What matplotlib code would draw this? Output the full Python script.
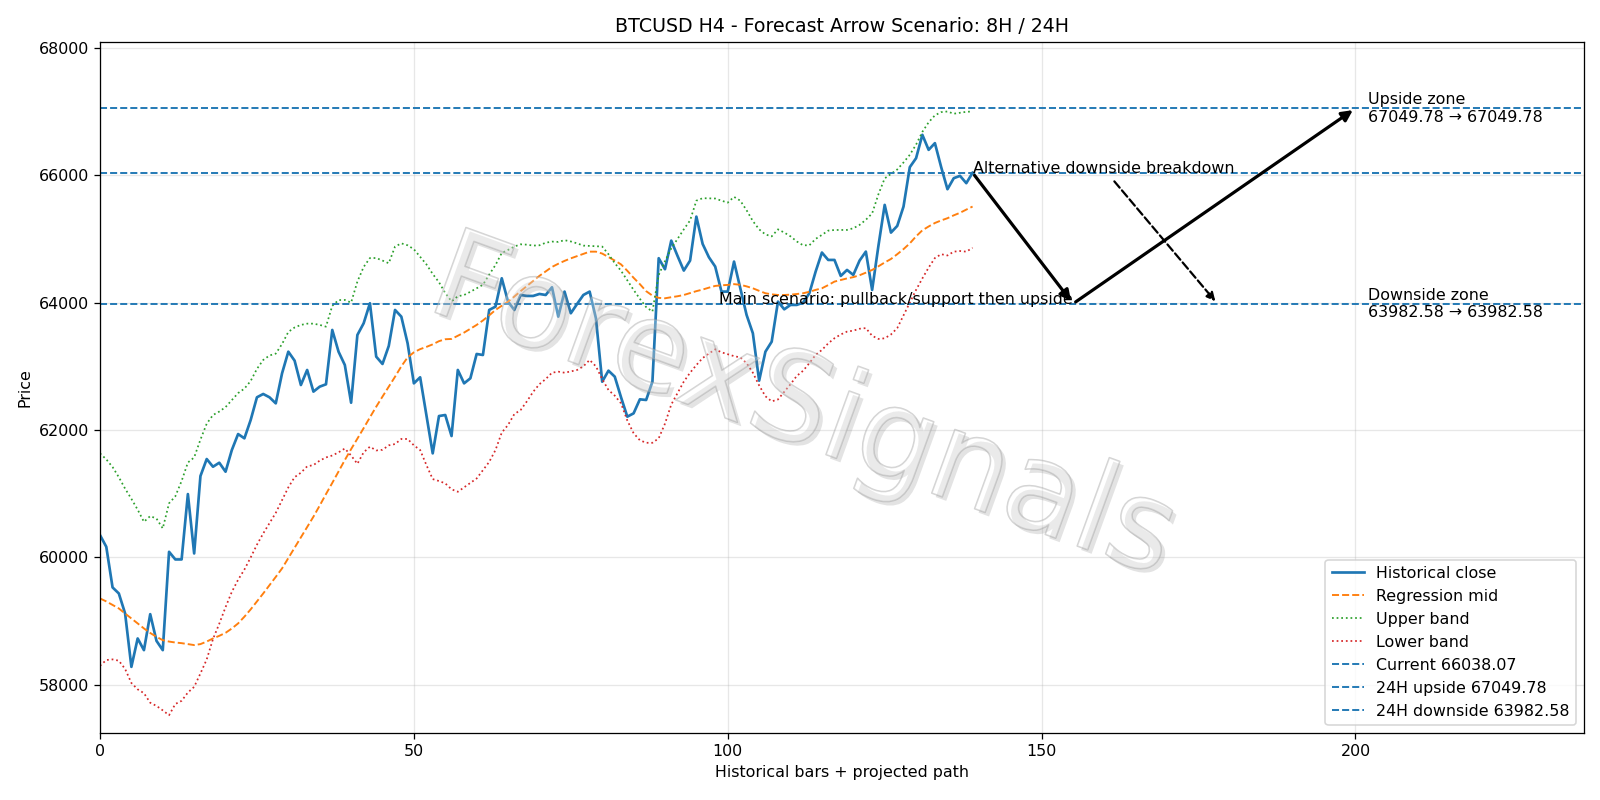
import matplotlib
matplotlib.use("Agg")
import matplotlib.pyplot as plt
import matplotlib.patheffects as pe

close = [60351, 60168, 59530, 59435, 59121, 58283, 58729, 58545, 59110, 58691,
         58545, 60089, 59969, 59969, 60995, 60063, 61278, 61545, 61424, 61487,
         61346, 61686, 61937, 61870, 62157, 62514, 62566, 62514, 62419, 62890,
         63230, 63089, 62707, 62943, 62603, 62681, 62718, 63571, 63230, 63021,
         62429, 63492, 63676, 63990, 63152, 63037, 63320, 63885, 63780, 63362,
         62733, 62828, 62236, 61634, 62220, 62236, 61906, 62943, 62733, 62812,
         63194, 63178, 63885, 63937, 64382, 64016, 63885, 64120, 64105, 64105,
         64136, 64120, 64241, 63780, 64173, 63833, 63979, 64120, 64173, 63754,
         62759, 62932, 62838, 62514, 62210, 62262, 62482, 62472, 62759, 64697,
         64524, 64973, 64733, 64503, 64660, 65350, 64921, 64712, 64566, 64173,
         64173, 64644, 64225, 63807, 63519, 62775, 63230, 63387, 64016, 63895,
         63964, 63964, 64000, 64147, 64487, 64786, 64670, 64670, 64419, 64513,
         64435, 64660, 64801, 64199, 64890, 65534, 65099, 65204, 65508, 66126,
         66267, 66634, 66398, 66503, 66126, 65780, 65953, 65990, 65875, 66038.07]

reg_mid = [59357, 59310, 59255, 59200, 59120, 59043, 58965, 58886, 58815, 58754,
           58702, 58680, 58665, 58655, 58640, 58625, 58640, 58680, 58729, 58770,
           58817, 58885, 58965, 59070, 59185, 59310, 59435, 59565, 59695, 59828,
           59990, 60150, 60315, 60478, 60640, 60815, 60995, 61170, 61350, 61529,
           61700, 61865, 62030, 62200, 62366, 62525, 62680, 62837, 63000, 63140,
           63220, 63270, 63305, 63345, 63395, 63425, 63430, 63480, 63530, 63590,
           63650, 63720, 63800, 63885, 63950, 64016, 64095, 64180, 64260, 64340,
           64420, 64490, 64560, 64610, 64655, 64695, 64730, 64765, 64800, 64800,
           64770, 64715, 64660, 64600, 64500, 64390, 64290, 64180, 64110, 64075,
           64068, 64085, 64100, 64120, 64150, 64180, 64205, 64235, 64262, 64272,
           64278, 64290, 64280, 64255, 64225, 64185, 64147, 64130, 64120, 64120,
           64125, 64135, 64147, 64170, 64200, 64225, 64275, 64330, 64355, 64380,
           64400, 64430, 64470, 64513, 64570, 64630, 64685, 64760, 64840, 64930,
           65040, 65135, 65195, 65250, 65290, 65325, 65370, 65410, 65460, 65508]

upper_band = [61634, 61540, 61420, 61260, 61080, 60920, 60750, 60560, 60650, 60610,
              60456, 60850, 60960, 61200, 61490, 61570, 61850, 62100, 62236, 62290,
              62360, 62470, 62580, 62650, 62770, 62960, 63100, 63170, 63200, 63350,
              63540, 63610, 63650, 63670, 63670, 63650, 63623, 63950, 64040, 64042,
              64000, 64330, 64560, 64700, 64700, 64660, 64618, 64880, 64930, 64900,
              64838, 64720, 64600, 64450, 64320, 64150, 64020, 64100, 64120, 64170,
              64225, 64280, 64440, 64590, 64780, 64827, 64880, 64915, 64910, 64895,
              64900, 64940, 64958, 64953, 64980, 64960, 64930, 64895, 64890, 64885,
              64880, 64760, 64620, 64500, 64350, 64200, 64060, 63930, 63860, 64435,
              64650, 64850, 65000, 65150, 65290, 65600, 65639, 65636, 65634, 65600,
              65570, 65660, 65600, 65450, 65280, 65150, 65070, 65040, 65150, 65100,
              65040, 64960, 64900, 64900, 65000, 65063, 65130, 65140, 65141, 65141,
              65167, 65220, 65300, 65400, 65700, 65950, 66020, 66090, 66200, 66320,
              66480, 66680, 66830, 66940, 66990, 67000, 66965, 66980, 66995, 67000]

lower_band = [58300, 58390, 58400, 58380, 58250, 58030, 57930, 57870, 57720, 57670,
              57600, 57524, 57700, 57750, 57880, 57969, 58180, 58400, 58720, 58960,
              59220, 59460, 59650, 59810, 60000, 60200, 60377, 60540, 60700, 60900,
              61100, 61260, 61330, 61430, 61450, 61520, 61570, 61600, 61650, 61710,
              61600, 61470, 61650, 61739, 61680, 61690, 61760, 61780, 61860, 61860,
              61760, 61686, 61450, 61230, 61200, 61163, 61070, 61031, 61100, 61170,
              61240, 61370, 61500, 61686, 61960, 62080, 62250, 62314, 62450, 62600,
              62720, 62800, 62900, 62916, 62900, 62920, 62943, 63000, 63100, 63000,
              62800, 62628, 62540, 62419, 62150, 61950, 61840, 61800, 61800, 61870,
              62100, 62400, 62580, 62760, 62900, 63020, 63130, 63200, 63267, 63220,
              63190, 63160, 63140, 63050, 62900, 62700, 62530, 62450, 62480, 62600,
              62720, 62850, 62930, 63050, 63180, 63257, 63360, 63441, 63500, 63545,
              63560, 63590, 63600, 63480, 63430, 63440, 63500, 63600, 63800, 64000,
              64200, 64380, 64550, 64700, 64760, 64740, 64800, 64810, 64800, 64860]

current = 66038.07
upside = 67049.78
downside = 63982.58

last_x = 139
pullback_x = 155
target_x = 200
alt_x = 178
zone_text_x = 202
main_text_x = 155

fig, ax = plt.subplots(figsize=(14, 7), dpi=800 / 7)
fig.subplots_adjust(left=0.0625, right=0.99, top=0.948, bottom=0.084)

x = list(range(len(close)))
ax.plot(x, close, color="C0", lw=1.7, label="Historical close")
ax.plot(x, reg_mid, color="C1", ls="--", lw=1.2, label="Regression mid")
ax.plot(x, upper_band, color="C2", ls=":", lw=1.1, label="Upper band")
ax.plot(x, lower_band, color="C3", ls=":", lw=1.1, label="Lower band")
ax.axhline(current, color="C0", ls="--", lw=1.2, label=f"Current {current:.2f}")
ax.axhline(upside, color="C0", ls="--", lw=1.2, label=f"24H upside {upside:.2f}")
ax.axhline(downside, color="C0", ls="--", lw=1.2, label=f"24H downside {downside:.2f}")

# main scenario arrows
ax.annotate("", xy=(pullback_x, downside), xytext=(last_x, current),
            arrowprops=dict(arrowstyle="-|>", color="black", lw=2.0, mutation_scale=14))
ax.annotate("", xy=(target_x, upside), xytext=(pullback_x, downside),
            arrowprops=dict(arrowstyle="-|>", color="black", lw=2.0, mutation_scale=14))
ax.text(main_text_x, downside, "Main scenario: pullback/support then upside", ha="right", fontsize=10)

# alternative scenario
ax.annotate("Alternative downside breakdown", xy=(alt_x, downside), xytext=(last_x, current),
            fontsize=10,
            arrowprops=dict(arrowstyle="-|>", color="black", lw=1.4, ls="--", mutation_scale=11))

ax.text(zone_text_x, upside, f"Upside zone\n{upside:.2f} \u2192 {upside:.2f}", va="center", fontsize=10)
ax.text(zone_text_x, downside, f"Downside zone\n{downside:.2f} \u2192 {downside:.2f}", va="center", fontsize=10)

ax.set_xlim(0, 236.4)
ax.set_ylim(57248, 68097)
ax.set_title("BTCUSD H4 - Forecast Arrow Scenario: 8H / 24H")
ax.set_xlabel("Historical bars + projected path")
ax.set_ylabel("Price")
ax.grid(True, alpha=0.3)
ax.legend(loc="lower right")

# watermark
fig.text(0.502, 0.488, "ForexSignals", fontsize=78, rotation=-20,
         ha="center", va="center", color=(1, 1, 1, 0.15), zorder=10,
         path_effects=[pe.SimplePatchShadow(offset=(2.5, -2.5), shadow_rgbFace=(0.5, 0.5, 0.5), alpha=0.22),
                       pe.Stroke(linewidth=1.0, foreground=(0.62, 0.62, 0.62, 0.45)),
                       pe.Normal()])

fig.savefig("out.png", dpi=800 / 7)
